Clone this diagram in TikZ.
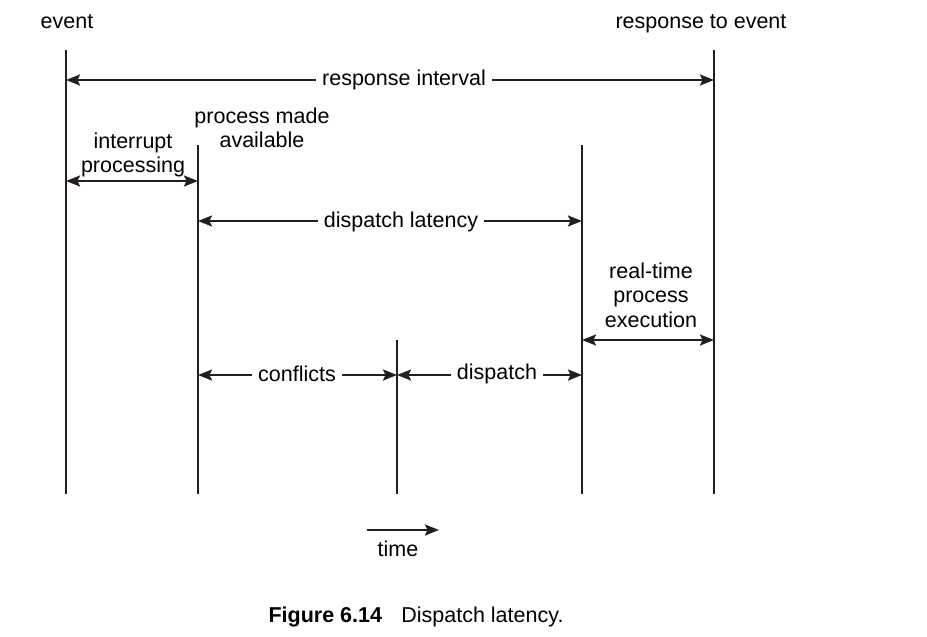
\documentclass[tikz,border=0pt]{standalone}
\usepackage{fontspec}
\setmainfont{Liberation Sans}
\usetikzlibrary{arrows.meta}
\definecolor{ink}{HTML}{231F20}
\begin{document}
\begin{tikzpicture}[x=1pt,y=1pt,
  vline/.style={draw=ink,line width=2.1pt},
  tip/.style={-{Stealth[length=14pt,width=11pt,inset=2.5pt]}},
  dtip/.style={{Stealth[length=14pt,width=11pt,inset=2.5pt]}-{Stealth[length=14pt,width=11pt,inset=2.5pt]}},
  conn/.style={draw=ink,line width=2.1pt},
  lbl/.style={font=\fontsize{21.5}{24.5}\selectfont,text=black,inner sep=0pt,align=center},
  bl/.style={lbl,anchor=base},
  gap/.style={bl,fill=white,inner xsep=6pt,inner ysep=3pt}
]
\useasboundingbox (0,0) rectangle (927,-637);
% vertical lines
\coordinate (v1t) at (66,-50);  \coordinate (v1b) at (66,-494);
\coordinate (v2t) at (198,-145); \coordinate (v2b) at (198,-494);
\coordinate (v3t) at (397,-340); \coordinate (v3b) at (397,-494);
\coordinate (v4t) at (582,-145); \coordinate (v4b) at (582,-494);
\coordinate (v5t) at (714,-50);  \coordinate (v5b) at (714,-494);
\draw[vline] (v1t) -- (v1b);
\draw[vline] (v2t) -- (v2b);
\draw[vline] (v3t) -- (v3b);
\draw[vline] (v4t) -- (v4b);
\draw[vline] (v5t) -- (v5b);
% top labels
\node[bl] (event) at (67,-28) {event};
\node[bl] (resp) at (701,-28) {response to event};
% response interval
\coordinate (riL) at (66,-80); \coordinate (riR) at (714,-80);
\draw[conn,dtip] (riL) -- (riR);
\node[gap] (ri) at (404,-85) {response interval};
% interrupt processing
\coordinate (ipL) at (66,-181); \coordinate (ipR) at (198,-181);
\draw[conn,dtip] (ipL) -- (ipR);
\node[lbl] (ip) at (133,-155) {interrupt\\processing};
\node[lbl] (pma) at (262,-128) {process made\\available};
% dispatch latency
\coordinate (dlL) at (198,-221); \coordinate (dlR) at (582,-221);
\draw[conn,dtip] (dlL) -- (dlR);
\node[gap] (dl) at (401,-227) {dispatch latency};
% real-time process execution
\node[lbl] (rtp) at (651,-295) {real-time\\process\\execution};
\coordinate (rtL) at (582,-340); \coordinate (rtR) at (714,-340);
\draw[conn,dtip] (rtL) -- (rtR);
% conflicts
\coordinate (cfL) at (198,-375); \coordinate (cfR) at (397,-375);
\draw[conn,dtip] (cfL) -- (cfR);
\node[gap] (cf) at (297,-381) {conflicts};
% dispatch
\coordinate (dpL) at (397,-375); \coordinate (dpR) at (582,-375);
\draw[conn,dtip] (dpL) -- (dpR);
\node[gap] (dp) at (497,-379) {dispatch};
% time
\coordinate (tL) at (367,-530); \coordinate (tR) at (439,-530);
\draw[conn,tip] (tL) -- (tR);
\node[bl] (time) at (398,-556) {time};
% caption
\node[bl] (cap) at (416,-622) {\textbf{Figure 6.14}\hspace{0.9em}Dispatch latency.};
\end{tikzpicture}
\end{document}
